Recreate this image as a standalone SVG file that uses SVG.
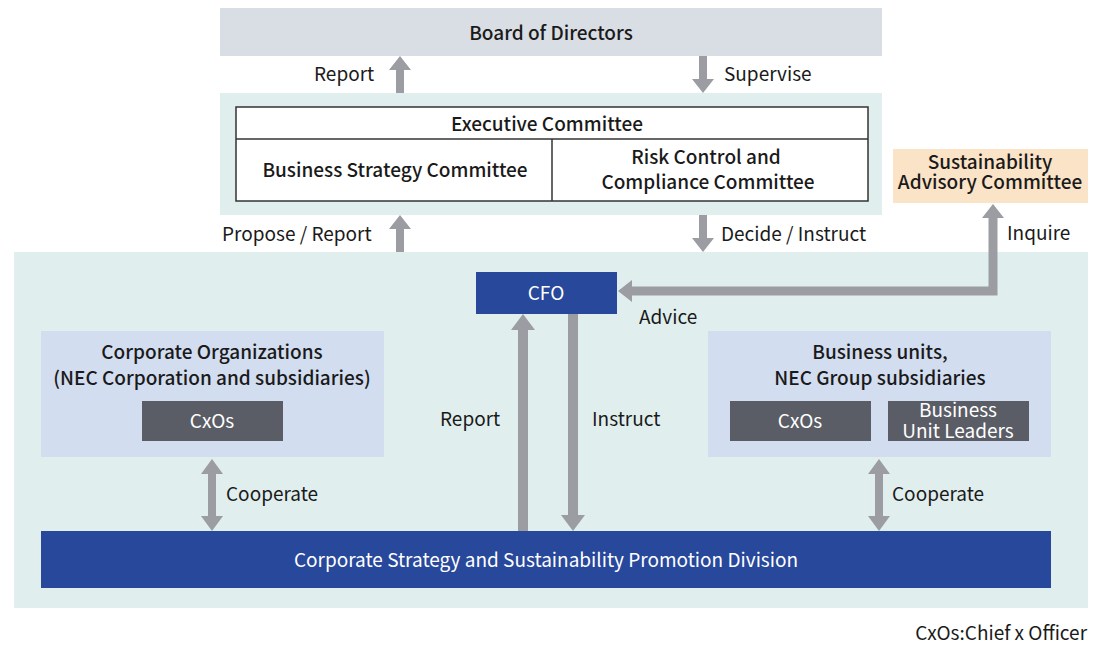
<svg xmlns="http://www.w3.org/2000/svg" width="1100" height="654" viewBox="0 0 1100 654">
<style>
text{font-family:"Noto Sans CJK JP","Noto Sans","Liberation Sans",sans-serif;font-size:19px;fill:#1a1a1a}
.c{text-anchor:middle}
.w{fill:#fff}
.ar{fill:#9b9da3}
.b{font-weight:500}
</style>
<rect width="1100" height="654" fill="#fff"/>
<g id="board"><rect x="220" y="8" width="662" height="48" fill="#d9dde4"/><text class="c b" x="551" y="40">Board of Directors</text></g>
<g id="exec"><rect x="220" y="93" width="662" height="122" fill="#e0efee"/>
<rect x="236" y="107" width="632" height="94" fill="#fff" stroke="#333" stroke-width="1.5"/>
<line x1="236" y1="139" x2="868" y2="139" stroke="#333" stroke-width="1.5"/>
<line x1="552" y1="139" x2="552" y2="201" stroke="#333" stroke-width="1.5"/>
<text class="c b" x="547" y="131">Executive Committee</text>
<text class="c b" x="395" y="177">Business Strategy Committee</text>
<text class="c b" x="706" y="164">Risk Control and</text>
<text class="c b" x="708" y="189">Compliance Committee</text></g>
<g id="sac"><rect x="893" y="149" width="195" height="54" fill="#fbe3c7"/>
<text class="c b" x="990" y="169" font-size="14">Sustainability</text><text class="c b" x="990" y="189" font-size="14">Advisory Committee</text></g>
<rect x="14" y="252" width="1074" height="356" fill="#e0efee"/>
<g id="cfo"><rect x="476" y="272" width="141" height="42" fill="#27489b"/><text class="c w" x="546" y="300">CFO</text></g>
<g id="corp"><rect x="41" y="331" width="343" height="126" fill="#d3ddf0"/>
<text class="c b" x="212" y="359">Corporate Organizations</text><text class="c b" x="212" y="385">(NEC Corporation and subsidiaries)</text>
<rect x="142" y="401" width="141" height="40" fill="#5a5d66"/><text class="c w" x="212" y="428">CxOs</text></g>
<g id="bu"><rect x="708" y="331" width="343" height="126" fill="#d3ddf0"/>
<text class="c b" x="880" y="359">Business units,</text><text class="c b" x="880" y="385">NEC Group subsidiaries</text>
<rect x="730" y="401" width="141" height="40" fill="#5a5d66"/><text class="c w" x="800" y="428">CxOs</text>
<rect x="888" y="401" width="141" height="40" fill="#5a5d66"/><text class="c w" x="958" y="417" font-size="17.5">Business</text><text class="c w" x="958" y="438" font-size="17.5">Unit Leaders</text></g>
<g id="div"><rect x="41" y="531" width="1010" height="57" fill="#27489b"/><text class="c w" x="546" y="567">Corporate Strategy and Sustainability Promotion Division</text></g>
<g id="connectors">
<path class="ar" d="M396 93V70H389L400 56L411 70H404V93Z"/>
<path class="ar" d="M699 56V79H692L703 93L714 79H707V56Z"/>
<path class="ar" d="M396 252V229H389L400 215L411 229H404V252Z"/>
<path class="ar" d="M699 215V238H692L703 252L714 238H707V215Z"/>
<path class="ar" d="M618 291L632 280V286.5H988.5V218H982L993 204L1004 218H997.5V295.5H632V302Z"/>
<path class="ar" d="M518 531V330H511L523 314L535 330H528V531Z"/>
<path class="ar" d="M568 314V515H561L573 531L585 515H578V314Z"/>
<path class="ar" d="M212 459L223 474H216V516H223L212 531L201 516H208V474H201Z"/>
<path class="ar" d="M879 459L890 474H883V516H890L879 531L868 516H875V474H868Z"/>
</g>
<text x="314" y="81">Report</text>
<text x="724" y="81">Supervise</text>
<text x="222" y="241">Propose / Report</text>
<text x="721" y="241">Decide / Instruct</text>
<text x="639" y="324">Advice</text>
<text x="1007" y="240">Inquire</text>
<text x="440" y="426">Report</text>
<text x="592" y="426">Instruct</text>
<text x="226" y="501">Cooperate</text>
<text x="892" y="501">Cooperate</text>
<text x="1087" y="640" text-anchor="end" font-size="16">CxOs:Chief x Officer</text>
</svg>
